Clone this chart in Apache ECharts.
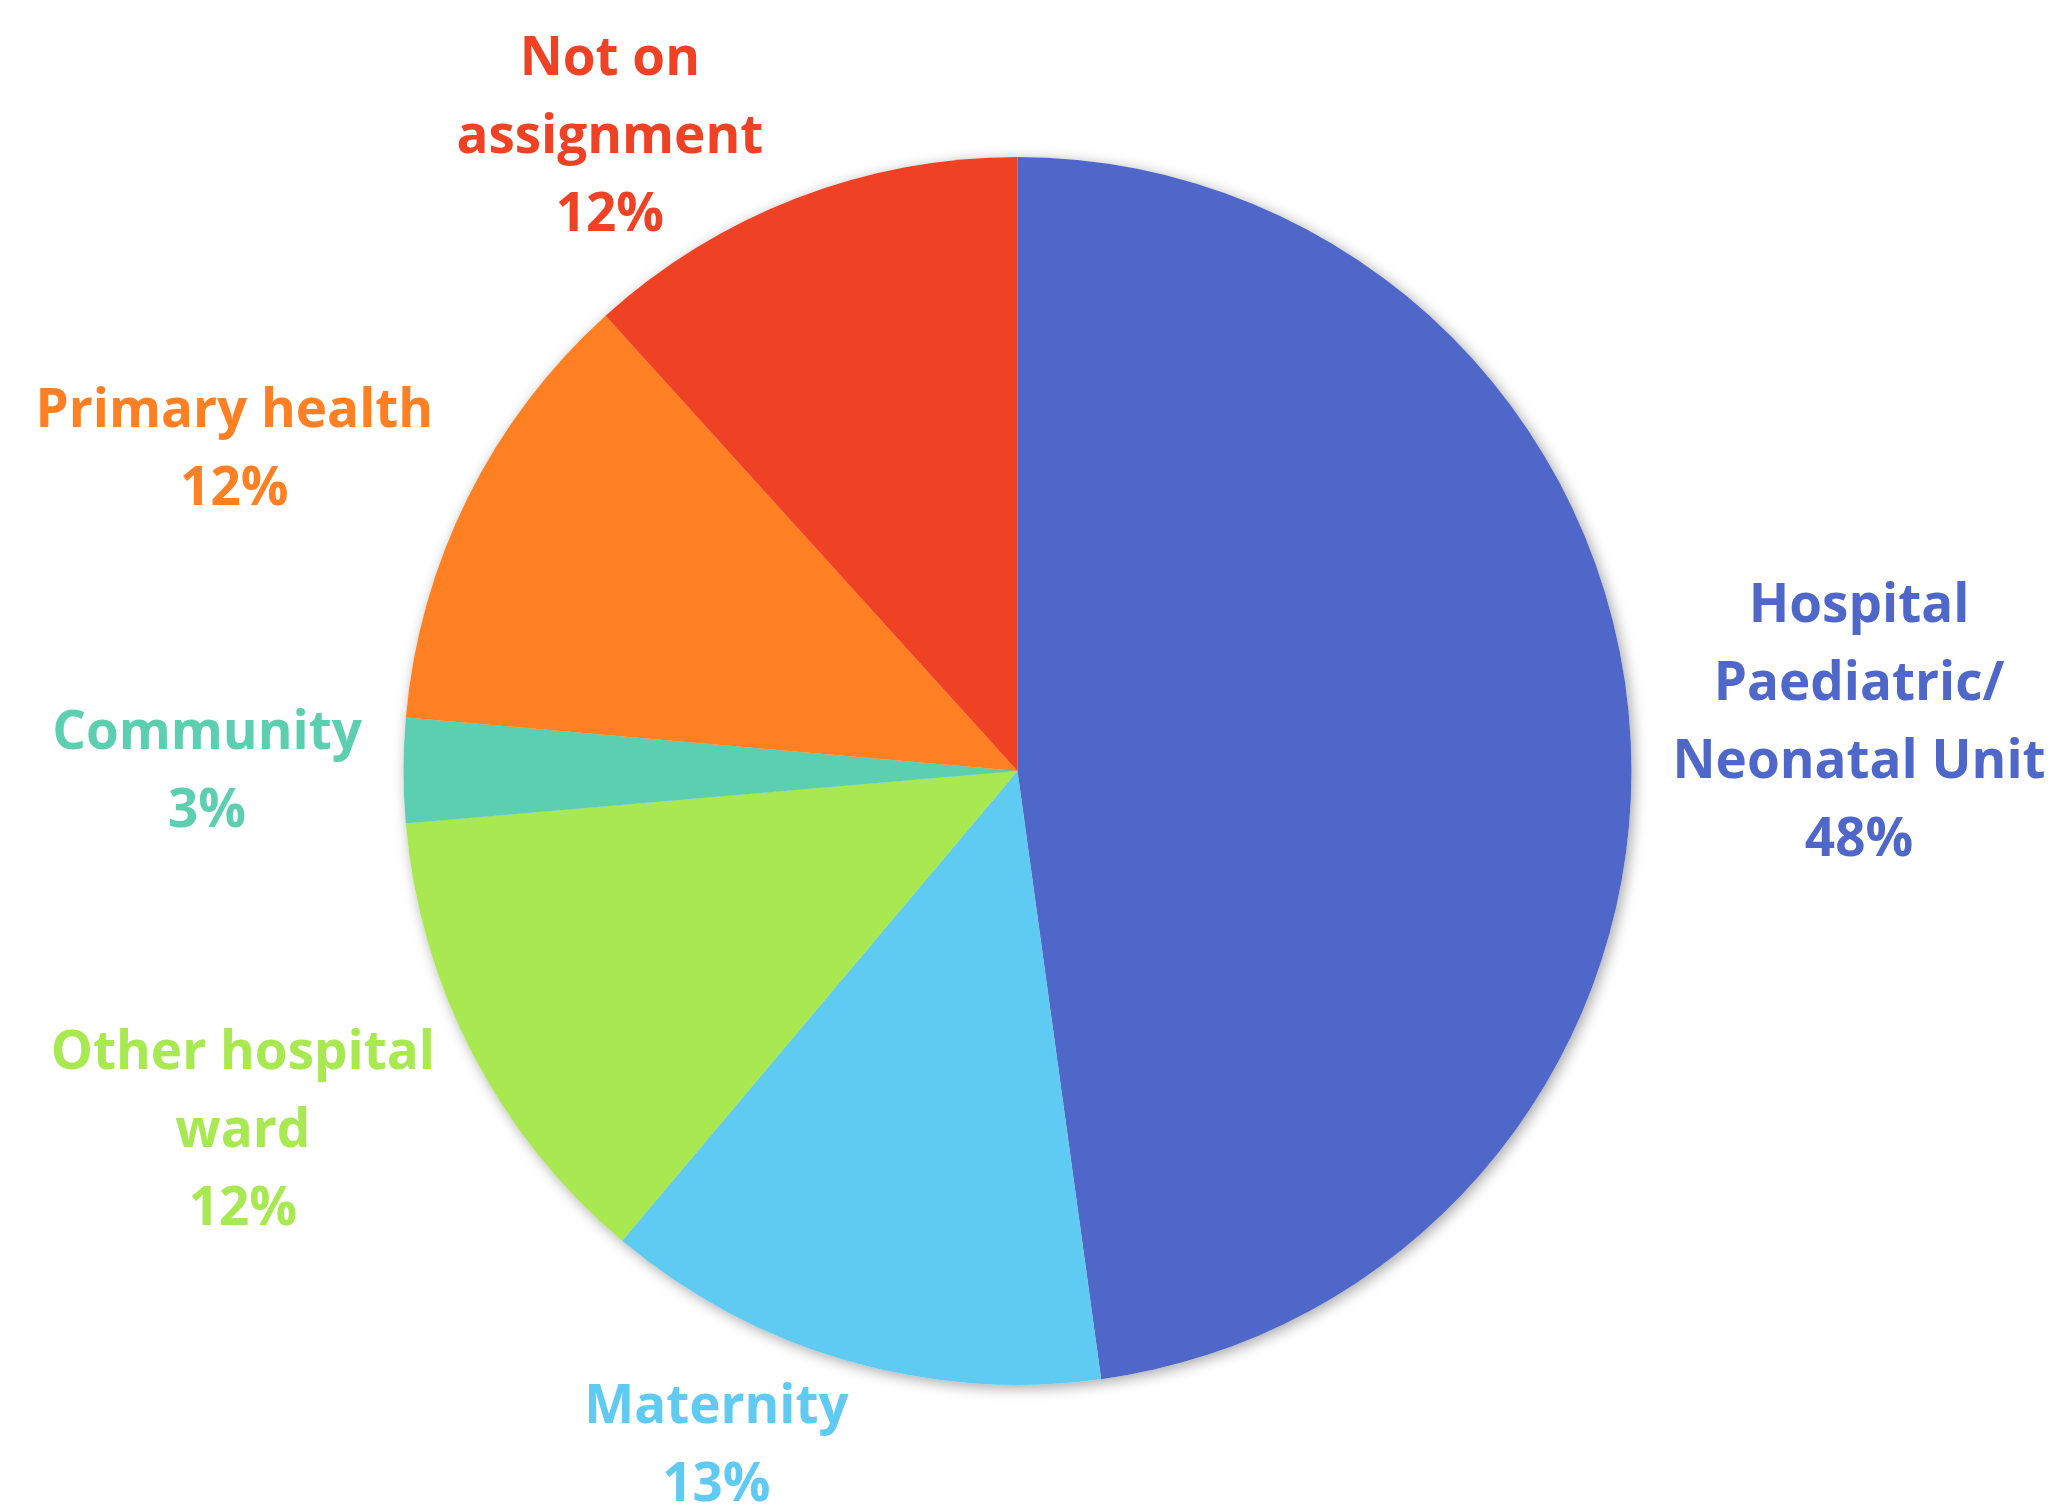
<!DOCTYPE html>
<html>
<head>
<meta charset="utf-8">
<script src="https://cdn.jsdelivr.net/npm/echarts@6/dist/echarts.min.js"></script>
<style>
html,body{margin:0;padding:0;background:#fff;}
#chart{width:2056px;height:1504px;}
</style>
</head>
<body>
<div id="chart"></div>
<script>
// ---- data ----
var categories = ['Hospital\nPaediatric/\nNeonatal Unit', 'Maternity', 'Other hospital\nward', 'Community', 'Primary health', 'Not on\nassignment'];
var values = [47.8, 13.3, 12.5, 2.75, 11.9, 11.7];
var colors = ['#4F67C8', '#5FCAF2', '#A8E851', '#5CCFB0', '#FF8022', '#EF4224'];

// ---- label placement (layout only): radial distance factor and angle nudge (deg) ----
var labelDist = [1.373, 1.20, 1.39, 1.32, 1.38, 1.23];
var labelNudge = [0.5, 8, 2.6, 0, -4, -11.6];

var W = 2056, H = 1504;
var cx = 1017.5, cy = 771, R = 614;

var total = values.reduce(function (a, b) { return a + b; }, 0);
var midAngles = [];
(function () {
  var acc = 0;
  for (var i = 0; i < values.length; i++) {
    midAngles.push((acc + values[i] / 2) / total * 360);
    acc += values[i];
  }
})();

var chart = echarts.init(document.getElementById('chart'), null, {renderer: 'canvas'});

var pieData = categories.map(function (c, i) {
  return {name: c, value: values[i], itemStyle: {color: colors[i]}, label: {color: colors[i]}};
});
var shadowData = categories.map(function (c, i) {
  return {name: c, value: values[i]};
});

var option = {
  backgroundColor: '#ffffff',
  animation: false,
  series: [
    {
      type: 'pie',
      silent: true,
      z: 1,
      center: [cx, cy],
      radius: R,
      startAngle: 90,
      clockwise: true,
      label: {show: false},
      labelLine: {show: false},
      itemStyle: {
        color: '#ffffff',
        borderWidth: 0,
        shadowBlur: 14,
        shadowColor: 'rgba(0,0,0,0.35)',
        shadowOffsetX: 3,
        shadowOffsetY: 3
      },
      data: shadowData
    },
    {
      type: 'pie',
      z: 2,
      center: [cx, cy],
      radius: R,
      startAngle: 90,
      clockwise: true,
      avoidLabelOverlap: false,
      percentPrecision: 0,
      itemStyle: {borderWidth: 0},
      label: {
        show: true,
        position: 'outside',
        formatter: '{b}\n{d}%',
        fontFamily: 'Open Sans',
        fontWeight: 'bold',
        fontSize: 53,
        lineHeight: 78,
        align: 'center'
      },
      labelLine: {show: false},
      labelLayout: function (p) {
        var i = p.dataIndex;
        var a = (midAngles[i] + labelNudge[i]) * Math.PI / 180;
        var d = labelDist[i] * R;
        return {
          x: cx + d * Math.sin(a),
          y: cy - d * Math.cos(a) + 3,
          align: 'center',
          verticalAlign: 'middle'
        };
      },
      emphasis: {disabled: true},
      data: pieData
    }
  ]
};
chart.setOption(option);
</script>
</body>
</html>
